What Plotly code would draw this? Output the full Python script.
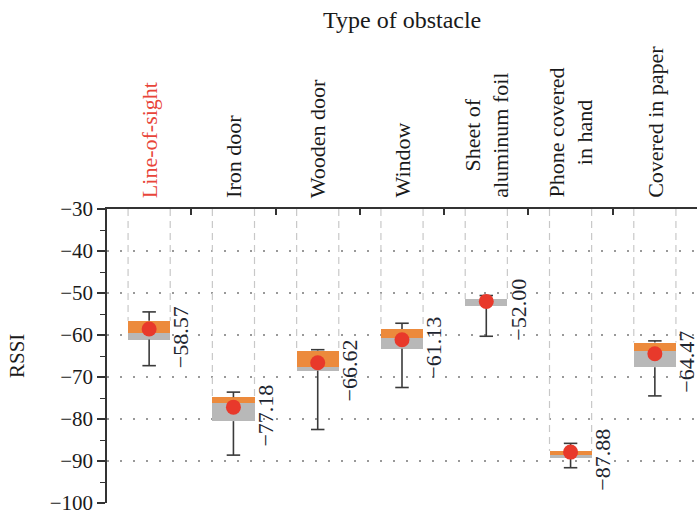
import plotly.graph_objects as go

categories = ["Line-of-sight", "Iron door", "Wooden door", "Window",
              "Sheet of<br>aluminum foil", "Phone covered<br>in hand", "Covered in paper"]
means = [-58.57, -77.18, -66.62, -61.13, -52.00, -87.88, -64.47]
whisker_high = [-54.5, -73.6, -63.5, -57.2, -50.6, -85.8, -61.4]
q3 = [-56.6, -74.8, -63.7, -58.6, -51.4, -87.6, -61.8]
medians = [-59.6, -76.3, -67.7, -60.7, -51.4, -88.6, -63.7]
q1 = [-61.1, -80.5, -68.5, -63.3, -53.1, -89.4, -67.7]
whisker_low = [-67.3, -88.6, -82.5, -72.5, -60.3, -91.6, -74.5]
y_ticks = [-30, -40, -50, -60, -70, -80, -90, -100]

FONT = "Liberation Serif"
idx = list(range(len(categories)))
BOXW = 0.5
CAPW = 0.08

fig = go.Figure()

# dashed guide lines from top axis to box top
gx, gy = [], []
for i, top in zip(idx, q3):
    for dx in (-BOXW / 2, BOXW / 2):
        gx += [i + dx, i + dx, None]
        gy += [-30, top, None]
fig.add_trace(go.Scatter(x=gx, y=gy, mode="lines",
                         line=dict(color="#c8c8c8", width=1.2, dash="7px,5px"),
                         hoverinfo="skip", showlegend=False))

# whiskers and caps
wx, wy = [], []
for i, hi, lo, a, b in zip(idx, whisker_high, whisker_low, q3, q1):
    wx += [i, i, None, i, i, None, i - CAPW, i + CAPW, None, i - CAPW, i + CAPW, None]
    wy += [hi, a, None, b, lo, None, hi, hi, None, lo, lo, None]
fig.add_trace(go.Scatter(x=wx, y=wy, mode="lines",
                         line=dict(color="#3a3a3a", width=1.6),
                         hoverinfo="skip", showlegend=False))

# box: grey lower part (q1 -> median), orange upper part (median -> q3)
fig.add_trace(go.Bar(x=idx, base=q1, y=[m - a for m, a in zip(medians, q1)],
                     width=BOXW, marker=dict(color="#b8b8b8", line=dict(width=0)),
                     showlegend=False, hoverinfo="skip"))
fig.add_trace(go.Bar(x=idx, base=medians, y=[t - m for t, m in zip(q3, medians)],
                     width=BOXW, marker=dict(color="#ec8a3c", line=dict(width=0)),
                     showlegend=False, hoverinfo="skip"))

# mean markers
fig.add_trace(go.Scatter(x=idx, y=means, mode="markers",
                         marker=dict(color="#e8392b", size=15, line=dict(width=0)),
                         showlegend=False))

# value labels
for i, m in zip(idx, means):
    fig.add_annotation(x=i, y=m, xref="x", yref="y", text=f"\u2212{abs(m):.2f}",
                       textangle=-90, showarrow=False, xshift=32, yshift=-8,
                       font=dict(family=FONT, size=22, color="#1e2530"))

# category labels
for i, c in zip(idx, categories):
    fig.add_annotation(x=i, y=1, xref="x", yref="paper", text=c, textangle=-90,
                       showarrow=False, yanchor="bottom", xanchor="center", yshift=9,
                       align="center",
                       font=dict(family=FONT, size=22,
                                 color="#e8453a" if i == 0 else "#1a1a1a"))

fig.add_annotation(x=0.5, y=1, xref="paper", yref="paper", yanchor="top",
                   text="Type of obstacle", showarrow=False, yshift=204,
                   font=dict(family=FONT, size=24, color="#1a1a1a"))

fig.add_annotation(x=-0.1525, y=0.5, xref="paper", yref="paper", text="RSSI",
                   textangle=-90, showarrow=False, xanchor="center", yanchor="middle",
                   font=dict(family=FONT, size=21, color="#1a1a1a"))

fig.update_layout(
    width=700, height=515,
    margin=dict(l=107, r=3, t=209, b=12, autoexpand=False),
    plot_bgcolor="white", paper_bgcolor="white",
    barmode="overlay", bargap=0,
    font=dict(family=FONT, size=22, color="#1a1a1a"),
    xaxis=dict(range=[-0.5, 6.5], side="top", showgrid=False, zeroline=False,
               automargin=False,
               showline=True, linecolor="#333", linewidth=1.5,
               tickmode="array", tickvals=[i + 0.5 for i in idx[:-1]],
               ticks="inside", ticklen=6, tickwidth=1.5, tickcolor="#333",
               showticklabels=False),
    yaxis=dict(range=[-100, -30], tickmode="array", tickvals=y_ticks,
               ticktext=[f"\u2212{abs(v)}" for v in y_ticks],
               automargin=False, ticklabeloverflow="allow",
               showline=True, linecolor="#333", linewidth=1.5,
               ticks="outside", ticklen=8, tickwidth=1.5, tickcolor="#333",
               minor=dict(dtick=5, ticks="outside", ticklen=5, tickwidth=1.2,
                          tickcolor="#333", showgrid=False),
               showgrid=True, gridcolor="#999", gridwidth=1.5, griddash="2px,11px",
               zeroline=False,
               tickfont=dict(family=FONT, size=21)),
)

fig.write_html("out.html", config={"displayModeBar": False},
               post_script="document.body.style.margin='0';"
                           "document.body.style.overflow='hidden';")
